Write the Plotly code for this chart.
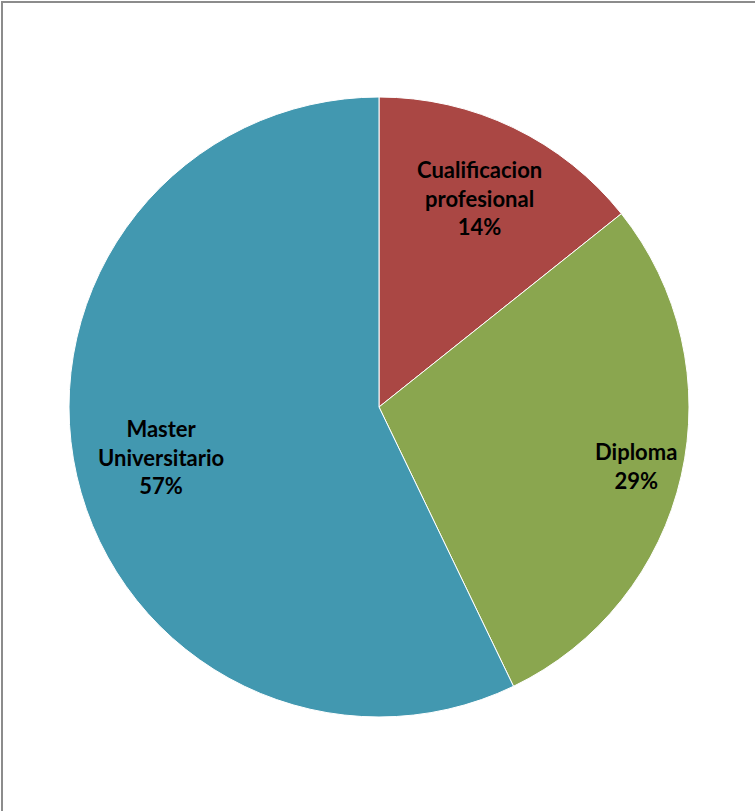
import math
import plotly.graph_objects as go

# Qualification categories, in clockwise order starting at 12 o'clock
categories = ["Cualificacion<br>profesional", "Diploma", "Master<br>Universitario"]
counts = [1, 2, 4]
colors = ["#AA4744", "#8AA64F", "#4298B0"]

W, H = 755, 811
cx, cy, R = 379, 407, 310  # pie centre and radius in pixels

total = sum(counts)
percents = [round(v / total * 100) for v in counts]

fig = go.Figure(
    go.Pie(
        labels=categories,
        values=counts,
        sort=False,
        direction="clockwise",
        rotation=0,
        marker=dict(colors=colors, line=dict(color="white", width=1)),
        textinfo="none",
        hoverinfo="label+percent",
        showlegend=False,
        domain=dict(
            x=[(cx - R) / W, (cx + R) / W],
            y=[(H - cy - R) / H, (H - cy + R) / H],
        ),
    )
)

# Label placement: slice mid-angle, at a fraction of the radius
label_radius = [0.75, 0.85, 0.72]
annotations = []
cum = 0
for cat, v, p, rf in zip(categories, counts, percents, label_radius):
    mid = (cum + v / 2) / total * 2 * math.pi
    cum += v
    px = cx + rf * R * math.sin(mid)
    py = cy - rf * R * math.cos(mid)
    annotations.append(
        dict(
            x=px / W,
            y=1 - py / H,
            xref="paper",
            yref="paper",
            text=f"<b>{cat}<br>{p}%</b>",
            showarrow=False,
            font=dict(family="Lato, Open Sans, sans-serif", size=22, color="black"),
            align="center",
            xanchor="center",
            yanchor="middle",
        )
    )

fig.update_layout(
    width=W,
    height=H,
    margin=dict(l=0, r=0, t=0, b=0),
    paper_bgcolor="white",
    plot_bgcolor="white",
    annotations=annotations,
    shapes=[
        dict(
            type="rect",
            xref="paper",
            yref="paper",
            x0=2 / W,
            x1=1.05,
            y0=-0.05,
            y1=1 - 2 / H,
            line=dict(color="#8C8C8C", width=2),
            fillcolor="rgba(0,0,0,0)",
            layer="below",
        )
    ],
)

fig.write_html("out.html")
